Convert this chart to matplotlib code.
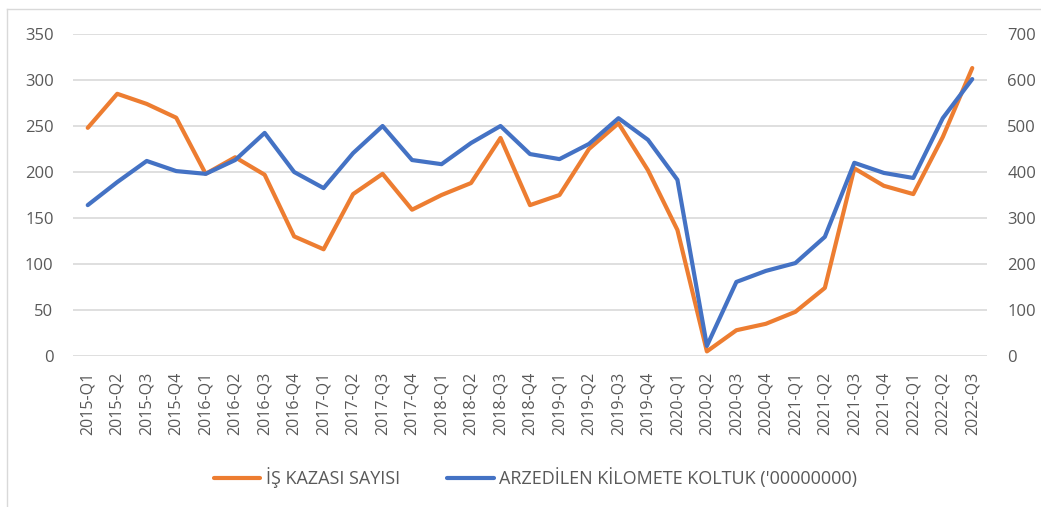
import matplotlib.pyplot as plt
from matplotlib.lines import Line2D

# Veriler
donemler = [f"{y}-Q{q}" for y in range(2015, 2023) for q in range(1, 5)][:31]
is_kazasi = [248, 285, 274, 259, 198, 216, 197, 130, 116, 176, 198, 159,
             175, 188, 237, 164, 175, 225, 253, 202, 137, 5, 28, 35,
             48, 74, 204, 185, 176, 238, 313]
koltuk_km = [328, 378, 424, 402, 396, 426, 485, 400, 365, 441, 500, 426,
             417, 463, 500, 439, 428, 461, 517, 470, 383, 22, 161, 185,
             202, 259, 420, 398, 387, 517, 602]
sol_ticks = [0, 50, 100, 150, 200, 250, 300, 350]
sag_ticks = [0, 100, 200, 300, 400, 500, 600, 700]

plt.rcParams['font.family'] = ['Open Sans', 'DejaVu Sans']
gri = '#595959'

fig = plt.figure(figsize=(10.41, 5.07), dpi=100)
ax = fig.add_axes([73 / 1041, 1 - 356 / 507, 914 / 1041, 322 / 507])
ax2 = ax.twinx()

x = list(range(len(donemler)))
l1, = ax.plot(x, is_kazasi, color='#ED7D31', lw=3.0, solid_capstyle='round',
              label='İŞ KAZASI SAYISI', zorder=3)
l2, = ax2.plot(x, koltuk_km, color='#4472C4', lw=3.0, solid_capstyle='round',
               label="ARZEDİLEN KİLOMETE KOLTUK ('00000000)", zorder=3)

ax.set_xlim(-0.5, len(donemler) - 0.5)
ax.set_ylim(0, 350)
ax2.set_ylim(0, 700)
ax.set_yticks(sol_ticks)
ax2.set_yticks(sag_ticks)
ax.set_xticks(x)
ax.set_xticklabels(donemler, rotation=90)

ax.grid(axis='y', color='#D9D9D9', lw=1.2)
ax.set_axisbelow(True)
for a in (ax, ax2):
    for s in a.spines.values():
        s.set_visible(False)
ax.tick_params(axis='y', length=0, pad=14, labelsize=12, labelcolor=gri)
ax2.tick_params(axis='y', length=0, pad=14.5, labelsize=12, labelcolor=gri)
ax.tick_params(axis='x', length=0, pad=11, labelsize=11.5, labelcolor=gri)

fig.legend(handles=[l1, l2], loc='center', bbox_to_anchor=(0.514, 1 - 478 / 507),
           ncol=2, frameon=False, fontsize=13, handlelength=2.6,
           handletextpad=0.28, columnspacing=2.6, labelcolor=gri)

# çerçeve (sol ve üst kenar)
fig.add_artist(Line2D([7 / 1041, 7 / 1041], [0, 1 - 9 / 507],
                      transform=fig.transFigure, color='#D9D9D9', lw=1))
fig.add_artist(Line2D([7 / 1041, 1], [1 - 9 / 507, 1 - 9 / 507],
                      transform=fig.transFigure, color='#D9D9D9', lw=1))

fig.savefig('out.png', dpi=100)
